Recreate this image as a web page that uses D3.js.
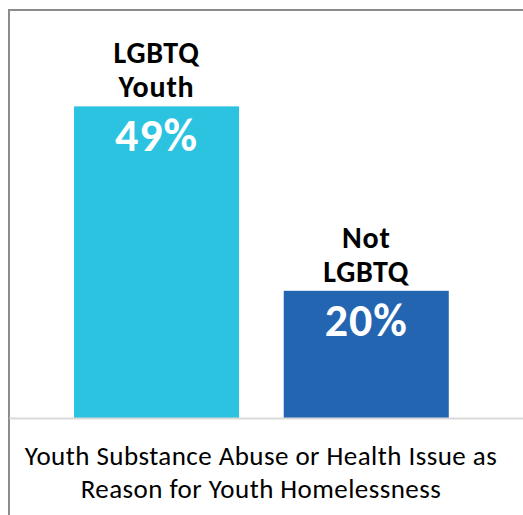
<!DOCTYPE html>
<html lang="en">
<head>
<meta charset="UTF-8" />
<title>Youth Substance Abuse or Health Issue</title>
<style>
  body { margin: 0; background: #fff; }
  svg { display: block; font-family: Carlito, Lato, "Open Sans", sans-serif; }
</style>
</head>
<body>
<script src="https://cdn.jsdelivr.net/npm/d3@7"></script>
<div id="app"></div>
<script>
// data
const groups = ["LGBTQ Youth", "Not LGBTQ"];
const groupLines = [["LGBTQ", "Youth"], ["Not", "LGBTQ"]];
const values = [49, 20];
const colors = ["#2cc3e1", "#2465b2"];
const titleLines = ["Youth Substance Abuse or Health Issue as", "Reason for Youth Homelessness"];

const w = 523, h = 515;
const baseY = 418;

const svg = d3.select("#app").append("svg")
  .attr("width", w)
  .attr("height", h);

// frame (top and left edges only, the rest is cut off)
svg.append("path")
  .attr("d", "M9,515 V10 H523")
  .attr("fill", "none")
  .attr("stroke", "#8c8c8c")
  .attr("stroke-width", 2);

// scales
const xScale = d3.scaleBand()
  .domain(groups)
  .range([9, 523])
  .paddingInner(0.213)
  .paddingOuter(0.332)
  .align(0.467);

const yScale = d3.scaleLinear()
  .domain([0, 60])
  .range([baseY, baseY - 60 * 6.36]);

// bars
svg.selectAll("rect.bar")
  .data(groups)
  .enter()
  .append("rect")
  .attr("class", "bar")
  .attr("x", d => xScale(d))
  .attr("y", (d, i) => yScale(values[i]))
  .attr("width", xScale.bandwidth())
  .attr("height", (d, i) => yScale(0) - yScale(values[i]))
  .attr("fill", (d, i) => colors[i]);

// axis baseline
const xAxis = d3.axisBottom(xScale).tickSize(0).tickFormat("");
const gx = svg.append("g")
  .attr("transform", "translate(0," + baseY + ")")
  .call(xAxis);
gx.select(".domain").attr("stroke", "#d9d9d9").attr("stroke-width", 2);

// value labels inside bars
svg.selectAll("text.val")
  .data(groups)
  .enter()
  .append("text")
  .attr("class", "val")
  .attr("x", d => xScale(d) + xScale.bandwidth() / 2)
  .attr("y", (d, i) => yScale(values[i]) + 45)
  .attr("text-anchor", "middle")
  .attr("fill", "#fff")
  .attr("font-weight", "bold")
  .attr("font-size", 46)
  .attr("letter-spacing", 1)
  .text((d, i) => values[i] + "%");

// category labels above bars
groups.forEach((g, i) => {
  const lines = groupLines[i];
  const top = yScale(values[i]);
  lines.forEach((ln, j) => {
    svg.append("text")
      .attr("x", xScale(g) + xScale.bandwidth() / 2)
      .attr("y", top - 9 - (lines.length - 1 - j) * 34)
      .attr("text-anchor", "middle")
      .attr("font-weight", "bold")
      .attr("font-size", 30)
      .attr("letter-spacing", 0.8)
      .attr("fill", "#000")
      .text(ln);
  });
});

// category title under the axis
titleLines.forEach((ln, j) => {
  svg.append("text")
    .attr("x", 261)
    .attr("y", 464.5 + j * 33)
    .attr("text-anchor", "middle")
    .attr("font-size", 27)
    .attr("letter-spacing", 0.45)
    .attr("fill", "#000")
    .text(ln);
});
</script>
</body>
</html>
